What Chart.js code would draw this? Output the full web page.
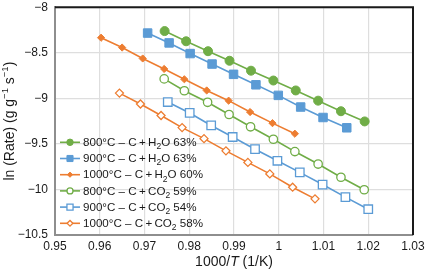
<!DOCTYPE html>
<html><head><meta charset="utf-8">
<script src="https://cdn.jsdelivr.net/npm/chart.js@4"></script>
<style>html,body{margin:0;padding:0;background:#fff}#c{display:block}</style>
</head><body>
<canvas id="c" width="425" height="273"></canvas>
<script>
// ---- data ----
const xTickLabels = ['0.95','0.96','0.97','0.98','0.99','1','1.01','1.02','1.03'];
const yTickLabels = ['−10.5','−10','−9.5','−9','−8.5','−8'];
const seriesNames = [
  '800°C – C\u2009+\u2009H₂O 63%',
  '900°C – C\u2009+\u2009H₂O 63%',
  '1000°C – C\u2009+\u2009H₂O 60%',
  '800°C – C\u2009+\u2009CO₂ 59%',
  '900°C – C\u2009+\u2009CO₂ 54%',
  '1000°C – C\u2009+\u2009CO₂ 58%'
];
const x800H2O = [0.9745,0.9793,0.9842,0.9890,0.9938,0.9988,1.0038,1.0088,1.0139,1.0192];
const y800H2O = [-8.261,-8.373,-8.482,-8.587,-8.696,-8.804,-8.913,-9.025,-9.141,-9.253];
const x900H2O = [0.9707,0.9755,0.9802,0.9851,0.9899,0.9949,0.9999,1.0049,1.0099,1.0152];
const y900H2O = [-8.283,-8.391,-8.508,-8.623,-8.736,-8.851,-8.967,-9.095,-9.210,-9.323];
const x1000H2O = [0.9603,0.9650,0.9696,0.9744,0.9789,0.9839,0.9888,0.9936,0.9986,1.0036];
const y1000H2O = [-8.334,-8.442,-8.562,-8.677,-8.790,-8.913,-9.025,-9.150,-9.272,-9.388];
const x800CO2 = [0.9744,0.9789,0.9841,0.9889,0.9937,0.9988,1.0036,1.0088,1.0139,1.0191];
const y800CO2 = [-8.786,-8.916,-9.043,-9.177,-9.312,-9.449,-9.584,-9.721,-9.866,-10.003];
const x900CO2 = [0.9752,0.9801,0.9849,0.9897,0.9947,0.9997,1.0047,1.0098,1.0149,1.0200];
const y900CO2 = [-9.040,-9.160,-9.297,-9.424,-9.558,-9.685,-9.812,-9.946,-10.084,-10.217];
const x1000CO2 = [0.9644,0.9691,0.9737,0.9784,0.9833,0.9882,0.9931,0.9980,1.0031,1.0081];
const y1000CO2 = [-8.942,-9.062,-9.188,-9.321,-9.442,-9.576,-9.703,-9.829,-9.975,-10.103];

// ---- styling ----
const GREEN = '#70ad47', BLUE = '#5b9bd5', ORANGE = '#ed7d31';
const FONT = '"Liberation Sans", Arial, Helvetica, sans-serif';
const TXT = '#1a1a1a';
const pts = (xs, ys) => xs.map((x, i) => ({x, y: ys[i]}));

const seriesData = [
  [x800H2O, y800H2O], [x900H2O, y900H2O], [x1000H2O, y1000H2O],
  [x800CO2, y800CO2], [x900CO2, y900CO2], [x1000CO2, y1000CO2]
];
const styles = [
  {c: GREEN, ps: 'circle', r: 4.5, fill: true},
  {c: BLUE, ps: 'rect', r: 6, fill: true},
  {c: ORANGE, ps: 'rectRot', r: 3.6, fill: true},
  {c: GREEN, ps: 'circle', r: 4.2, fill: false},
  {c: BLUE, ps: 'rect', r: 6, fill: false},
  {c: ORANGE, ps: 'rectRot', r: 4, fill: false}
];

const datasets = seriesData.map((s, i) => {
  const st = styles[i];
  return {
    label: seriesNames[i],
    data: pts(s[0], s[1]),
    showLine: true,
    borderColor: st.c,
    borderWidth: 1.6,
    pointStyle: st.ps,
    pointRadius: st.r,
    pointHoverRadius: st.r,
    pointBackgroundColor: st.fill ? st.c : '#ffffff',
    pointBorderColor: st.c,
    pointBorderWidth: st.fill ? 1 : 1.3
  };
});

function drawRich(ctx, text, x, y, size, subSize, subDy) {
  // draws text where the char '₂' is rendered as a subscript "2"
  const parts = text.split('₂');
  let cx = x;
  parts.forEach((p, k) => {
    ctx.font = size + 'px ' + FONT;
    ctx.fillText(p, cx, y);
    cx += ctx.measureText(p).width;
    if (k < parts.length - 1) {
      ctx.font = subSize + 'px ' + FONT;
      ctx.fillText('2', cx, y + subDy);
      cx += ctx.measureText('2').width;
    }
  });
}

const decor = {
  id: 'decor',
  afterDraw(chart) {
    const ctx = chart.ctx, a = chart.chartArea;
    ctx.save();
    // top and right frame (black)
    ctx.strokeStyle = '#1a1a1a';
    ctx.lineWidth = 2;
    ctx.beginPath();
    ctx.moveTo(a.left, a.top); ctx.lineTo(a.right, a.top); ctx.lineTo(a.right, a.bottom);
    ctx.stroke();

    // legend
    const lx = a.left + 5, ly0 = 142.3, dy = 16.2;
    chart.data.datasets.forEach((ds, i) => {
      const y = ly0 + i * dy;
      ctx.strokeStyle = ds.borderColor;
      ctx.lineWidth = ds.borderWidth;
      ctx.beginPath(); ctx.moveTo(lx, y); ctx.lineTo(lx + 20, y); ctx.stroke();
      ctx.fillStyle = ds.pointBackgroundColor;
      ctx.strokeStyle = ds.pointBorderColor;
      ctx.lineWidth = ds.pointBorderWidth;
      Chart.helpers.drawPoint(ctx, {pointStyle: ds.pointStyle, radius: ds.pointRadius * 0.72, rotation: 0, borderWidth: ds.pointBorderWidth}, lx + 10, y);
      ctx.fillStyle = TXT;
      ctx.textBaseline = 'middle';
      ctx.textAlign = 'left';
      drawRich(ctx, ds.label, lx + 23, y + 0.5, 11.6, 8.5, 4);
    });

    // x title: 1000/T (1/K) with italic T
    ctx.fillStyle = TXT;
    ctx.textBaseline = 'middle';
    ctx.textAlign = 'left';
    const p1 = '1000/', p2 = 'T', p3 = ' (1/K)';
    ctx.font = '14px ' + FONT; const w1 = ctx.measureText(p1).width, w3 = ctx.measureText(p3).width;
    ctx.font = 'italic 14px ' + FONT; const w2 = ctx.measureText(p2).width;
    let sx = (a.left + a.right) / 2 - (w1 + w2 + w3) / 2;
    const ty = 262;
    ctx.font = '14px ' + FONT; ctx.fillText(p1, sx, ty); sx += w1;
    ctx.font = 'italic 14px ' + FONT; ctx.fillText(p2, sx, ty); sx += w2;
    ctx.font = '14px ' + FONT; ctx.fillText(p3, sx, ty);

    // y title: ln (Rate) (g g−1 s−1)
    const segs = [['ln (Rate) (g g', 0], ['−1', 1], [' s', 0], ['−1', 1], [')', 0]];
    let tw = 0;
    segs.forEach(s => { ctx.font = (s[1] ? '9.5px ' : '14px ') + FONT; s.w = ctx.measureText(s[0]).width; tw += s.w; });
    ctx.translate(10, (a.top + a.bottom) / 2);
    ctx.rotate(-Math.PI / 2);
    let px = -tw / 2;
    segs.forEach(s => {
      ctx.font = (s[1] ? '9.5px ' : '14px ') + FONT;
      ctx.fillText(s[0], px, s[1] ? -5 : 0);
      px += s.w;
    });
    ctx.restore();
  }
};

new Chart(document.getElementById('c'), {
  type: 'scatter',
  data: {datasets},
  options: {
    responsive: false,
    animation: false,
    devicePixelRatio: 1,
    layout: {padding: {top: 5, right: 12, left: 0, bottom: 0}},
    plugins: {legend: {display: false}, tooltip: {enabled: false}},
    scales: {
      x: {
        type: 'linear', min: 0.95, max: 1.03,
        afterFit(s) { s.height = 38; s.paddingLeft = 0; s.paddingRight = 0; },
        grid: {color: '#dedede', lineWidth: 1.2, drawTicks: false},
        border: {color: '#8e8e8e', width: 2},
        ticks: {
          stepSize: 0.01, padding: 4, color: TXT, maxRotation: 0, autoSkip: false,
          font: {family: FONT, size: 12},
          callback(v) {
            const r = Math.round(v * 100) / 100;
            const l = xTickLabels.find(t => Math.abs(parseFloat(t) - r) < 1e-9);
            return l === undefined ? '' : l;
          }
        }
      },
      y: {
        type: 'linear', min: -10.5, max: -8,
        afterFit(s) { s.width = 55; s.paddingTop = 0; s.paddingBottom = 0; },
        grid: {color: '#dedede', lineWidth: 1.2, drawTicks: false},
        border: {color: '#8e8e8e', width: 2},
        ticks: {
          stepSize: 0.5, padding: 7, color: TXT,
          font: {family: FONT, size: 12},
          callback(v) {
            const idx = Math.round((v + 10.5) / 0.5);
            return yTickLabels[idx] !== undefined ? yTickLabels[idx] : '';
          }
        }
      }
    }
  },
  plugins: [decor]
});
</script>
</body></html>
